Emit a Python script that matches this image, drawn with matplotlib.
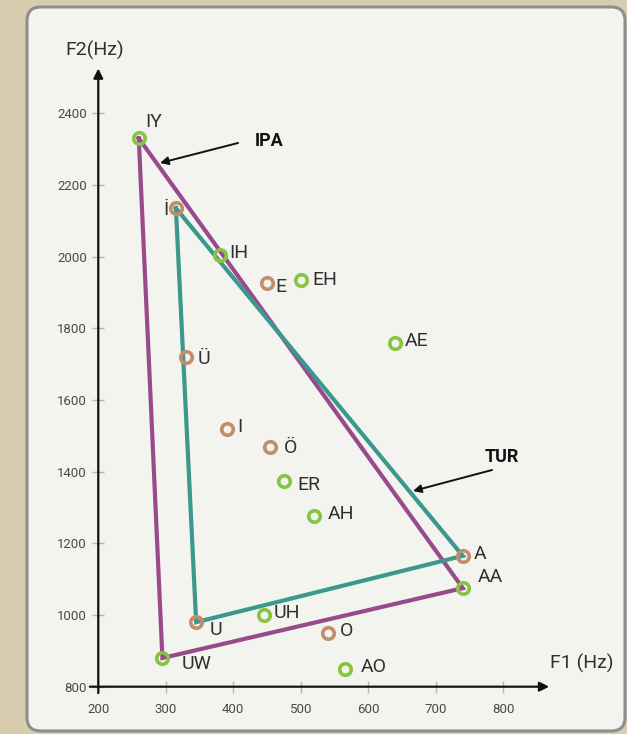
import matplotlib
matplotlib.use("Agg")
import matplotlib.pyplot as plt
from matplotlib.patches import FancyBboxPatch

# ---------------- data ----------------
tur_labels = ['İ', 'E', 'Ü', 'I', 'Ö', 'A', 'U', 'O']
tur_f1 = [315, 450, 330, 390, 455, 740, 345, 540]
tur_f2 = [2135, 1925, 1720, 1520, 1470, 1165, 980, 950]

ipa_labels = ['IY', 'IH', 'EH', 'AE', 'ER', 'AH', 'AA', 'UH', 'UW', 'AO']
ipa_f1 = [260, 380, 500, 640, 475, 520, 740, 445, 295, 565]
ipa_f2 = [2330, 2005, 1935, 1760, 1375, 1275, 1075, 1000, 880, 850]

ipa_triangle = ['IY', 'AA', 'UW']
tur_triangle = ['İ', 'A', 'U']

x_ticks = [200, 300, 400, 500, 600, 700, 800]
y_ticks = [800, 1000, 1200, 1400, 1600, 1800, 2000, 2200, 2400]

# ---------------- styles / layout ----------------
W, H = 627, 734
FONT = ['Roboto', 'DejaVu Sans']
BG = '#d8cbae'
PANEL = '#f3f4f0'
GREEN = '#86c441'
BROWN = '#c48d68'
PURPLE = '#994a8c'
TEAL = '#3c978c'
TXT = '#303030'

# label offsets in points (dx, dy, ha)
offsets = {
    'IY': (5, 12, 'left'), 'İ': (-5, -1.5, 'right'), 'IH': (7, 1, 'left'),
    'E': (6, -2.5, 'left'), 'EH': (8, 0, 'left'), 'AE': (7, 1, 'left'),
    'Ü': (8, -1.5, 'left'), 'I': (8, 1.5, 'left'), 'Ö': (10, -1, 'left'),
    'ER': (10, -3, 'left'), 'AH': (10, 1.5, 'left'), 'A': (8, 1.5, 'left'),
    'AA': (11, 8, 'left'), 'U': (10, -5.5, 'left'), 'UH': (7, 1.5, 'left'),
    'UW': (14, -4.5, 'left'), 'O': (8.5, 1.5, 'left'), 'AO': (11.5, 1.5, 'left'),
}

plt.rcParams['font.family'] = FONT

fig = plt.figure(figsize=(W / 100, H / 100), dpi=100)
fig.patch.set_facecolor(BG)
ax = fig.add_axes([0, 0, 1, 1])
ax.patch.set_visible(False)

# axes limits chosen so that the plotting frame sits as in the reference
ax.set_xlim(54.4, 983.3)
ax.set_ylim(668.0, 2716.0)

# panel
panel = FancyBboxPatch((27 / W, 1 - 731 / H), (625 - 27) / W, (731 - 7) / H,
                       boxstyle="round,pad=0,rounding_size=0.022",
                       transform=ax.transAxes, facecolor=PANEL,
                       edgecolor='#8e8e8e', linewidth=2.2, zorder=0,
                       clip_on=False, mutation_aspect=W / H)
ax.add_patch(panel)

# spines / ticks
for s in ['top', 'right']:
    ax.spines[s].set_visible(False)
ax.spines['left'].set_position(('data', 200))
ax.spines['bottom'].set_position(('data', 800))
ax.spines['left'].set_color('none')
ax.spines['bottom'].set_color('none')
ax.set_xticks(x_ticks)
ax.set_yticks(y_ticks)
ax.tick_params(axis='both', direction='inout', length=8, width=1,
               color='#b5b5b5', labelcolor='#4a4a4a', labelsize=9.5)
ax.tick_params(axis='x', pad=7.5)
ax.tick_params(axis='y', pad=4)

# axis arrows
ax.annotate('', xy=(868, 800), xytext=(187.5, 800),
            arrowprops=dict(arrowstyle='-|>', color='#111111', lw=1.6,
                            mutation_scale=14, shrinkA=0, shrinkB=0), zorder=2)
ax.annotate('', xy=(200, 2525), xytext=(200, 782),
            arrowprops=dict(arrowstyle='-|>', color='#111111', lw=1.6,
                            mutation_scale=14, shrinkA=0, shrinkB=0), zorder=2)

# triangles
lookup = {}
for l, x, y in zip(tur_labels, tur_f1, tur_f2):
    lookup[l] = (x, y)
for l, x, y in zip(ipa_labels, ipa_f1, ipa_f2):
    lookup[l] = (x, y)

for tri, col in [(ipa_triangle, PURPLE), (tur_triangle, TEAL)]:
    xs = [lookup[v][0] for v in tri] + [lookup[tri[0]][0]]
    ys = [lookup[v][1] for v in tri] + [lookup[tri[0]][1]]
    ax.plot(xs, ys, color=col, lw=3, solid_joinstyle='miter', zorder=3)

# markers
ax.plot(tur_f1, tur_f2, 'o', ms=8.3, mew=2.6, mfc='none', mec=BROWN, zorder=4)
ax.plot(ipa_f1, ipa_f2, 'o', ms=8.3, mew=2.6, mfc='none', mec=GREEN, zorder=4)

# labels
for labs, xs, ys in [(tur_labels, tur_f1, tur_f2), (ipa_labels, ipa_f1, ipa_f2)]:
    for l, x, y in zip(labs, xs, ys):
        dx, dy, ha = offsets[l]
        ax.annotate(l, (x, y), xytext=(dx, dy), textcoords='offset points',
                    ha=ha, va='center', fontsize=14, color=TXT, zorder=5)

# axis titles
ax.text(65 / W, 1 - 50 / H, 'F2(Hz)', transform=ax.transAxes, ha='left',
        va='center', fontsize=14, color=TXT)
ax.text(550 / W, 1 - 663 / H, 'F1 (Hz)', transform=ax.transAxes, ha='left',
        va='center', fontsize=14, color=TXT)

# IPA / TUR callouts
ax.text(255 / W, 1 - 141 / H, 'IPA', transform=ax.transAxes, ha='left',
        va='center', fontsize=13, fontweight='bold', color='#111111')
ax.annotate('', xy=(160 / W, 1 - 163 / H), xytext=(238 / W, 1 - 143 / H),
            xycoords='axes fraction', textcoords='axes fraction',
            arrowprops=dict(arrowstyle='-|>', color='#111111', lw=1.4,
                            mutation_scale=12, shrinkA=0, shrinkB=0))
ax.text(485 / W, 1 - 457 / H, 'TUR', transform=ax.transAxes, ha='left',
        va='center', fontsize=13, fontweight='bold', color='#111111')
ax.annotate('', xy=(413 / W, 1 - 491 / H), xytext=(492 / W, 1 - 470 / H),
            xycoords='axes fraction', textcoords='axes fraction',
            arrowprops=dict(arrowstyle='-|>', color='#111111', lw=1.4,
                            mutation_scale=12, shrinkA=0, shrinkB=0))

fig.savefig('out.png', dpi=100, facecolor=fig.get_facecolor())
